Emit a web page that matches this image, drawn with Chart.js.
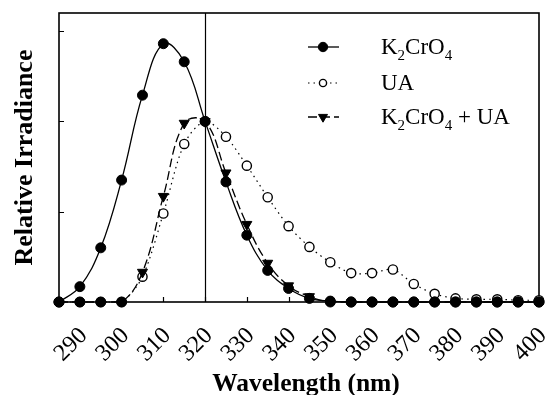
<!DOCTYPE html>
<html>
<head>
<meta charset="utf-8">
<title>Relative Irradiance</title>
<script src="https://cdn.jsdelivr.net/npm/chart.js@4.4.0/dist/chart.umd.min.js"></script>
<style>
  html, body { margin: 0; padding: 0; background: #fff; }
  #wrap { width: 545px; height: 395px; }
</style>
</head>
<body>
<div id="wrap"><canvas id="irradianceChart"></canvas></div>
<script>
// Wavelength grid (nm) and relative irradiance for each filter
const wavelengths = [285, 290, 295, 300, 305, 310, 315, 320, 325, 330, 335, 340,
                     345, 350, 355, 360, 365, 370, 375, 380, 385, 390, 395, 400];
const chromate = [0, 0.17, 0.6, 1.35, 2.29, 2.86, 2.66, 2.0, 1.33, 0.74, 0.35, 0.15,
                  0.04, 0.01, 0, 0, 0, 0, 0, 0, 0, 0, 0, 0];
const uricAcid = [0, 0, 0, 0, 0.28, 0.98, 1.75, 2.0, 1.83, 1.51, 1.16, 0.84,
                  0.61, 0.44, 0.32, 0.32, 0.36, 0.2, 0.09, 0.04, 0.03, 0.03, 0.02, 0.02];
const mixed = [0, 0, 0, 0, 0.33, 1.17, 1.98, 2.0, 1.43, 0.86, 0.43, 0.18,
               0.06, 0, 0, 0, 0, 0, 0, 0, 0, 0, 0, 0];

const xTickValues = [290, 300, 310, 320, 330, 340, 350, 360, 370, 380, 390, 400];
const yTickValues = [1, 2, 3];
const markerLine = 320;
const xTitle = 'Wavelength (nm)';

const SERIF = '"Liberation Serif", "Times New Roman", serif';

const toPoints = values => values.map((v, i) => ({ x: wavelengths[i], y: v }));

// Frame, inward tick marks and the reference line at 320 nm
const framePlugin = {
    id: 'frame',
    beforeDatasetsDraw(chart) {
        const { ctx, chartArea: a, scales: { x, y } } = chart;
        ctx.save();
        ctx.strokeStyle = '#000';

        ctx.lineWidth = 1.2;
        ctx.beginPath();
        xTickValues.forEach(v => {
            const px = Math.round(x.getPixelForValue(v)) + 0.5;
            ctx.moveTo(px, a.bottom);
            ctx.lineTo(px, a.bottom - 5);
        });
        yTickValues.forEach(v => {
            const py = Math.round(y.getPixelForValue(v)) + 0.5;
            ctx.moveTo(a.left, py);
            ctx.lineTo(a.left + 5, py);
        });
        ctx.stroke();

        const mx = Math.round(x.getPixelForValue(markerLine)) + 0.5;
        ctx.beginPath();
        ctx.moveTo(mx, a.top);
        ctx.lineTo(mx, a.bottom);
        ctx.stroke();

        ctx.lineWidth = 1.6;
        ctx.strokeRect(a.left, a.top, a.right - a.left, a.bottom - a.top);
        ctx.restore();
    },
    afterDraw(chart) {
        // x title sits a little right of the plot centre
        const { ctx, chartArea: a } = chart;
        ctx.save();
        ctx.fillStyle = '#000';
        ctx.font = 'bold 25.5px ' + SERIF;
        ctx.textAlign = 'center';
        ctx.textBaseline = 'alphabetic';
        ctx.fillText(xTitle, (a.left + a.right) / 2 + 7, 391);
        ctx.restore();
    }
};

// Draws "K2CrO4" style labels with the digits set as subscripts
function drawFormula(ctx, text, x, y) {
    let cx = x;
    for (const ch of text) {
        const sub = /[0-9]/.test(ch);
        ctx.font = (sub ? '15px ' : '23px ') + SERIF;
        ctx.fillText(ch, cx, sub ? y + 6 : y);
        cx += ctx.measureText(ch).width;
    }
}

// Legend in the upper right of the plot
const legendPlugin = {
    id: 'formulaLegend',
    afterDraw(chart) {
        const { ctx } = chart;
        const order = [0, 2, 1];
        const rowY = [47, 83, 117];
        const sampleSize = [4.7, 3.6, 5.2];
        ctx.save();
        order.forEach((di, row) => {
            const ds = chart.data.datasets[di];
            const y = rowY[row];
            ctx.strokeStyle = '#000';
            ctx.lineWidth = ds.borderWidth;
            ctx.setLineDash(ds.borderDash || []);
            ctx.beginPath();
            ctx.moveTo(308, y);
            ctx.lineTo(339, y);
            ctx.stroke();
            ctx.setLineDash([]);
            ctx.fillStyle = ds.pointBackgroundColor;
            ctx.lineWidth = ds.pointBorderWidth;
            Chart.helpers.drawPoint(ctx, {
                pointStyle: ds.legendStyle,
                rotation: ds.pointRotation || 0,
                radius: sampleSize[row],
                borderWidth: ds.pointBorderWidth
            }, 323, y);
            ctx.fillStyle = '#000';
            ctx.textBaseline = 'alphabetic';
            ctx.textAlign = 'left';
            drawFormula(ctx, ds.label, 381, y + 7);
        });
        ctx.restore();
    }
};

const canvas = document.getElementById('irradianceChart');
canvas.width = 545;
canvas.height = 395;

// Chart.js paints the last dataset first, so K2CrO4 ends up on top
new Chart(canvas, {
    type: 'line',
    data: {
        datasets: [
            {
                label: 'K2CrO4',
                data: toPoints(chromate),
                borderColor: '#000',
                borderWidth: 1.3,
                tension: 0.4,
                pointStyle: 'circle',
                legendStyle: 'circle',
                pointRadius: 5,
                pointBackgroundColor: '#000',
                pointBorderColor: '#000',
                pointBorderWidth: 1,
                clip: 8
            },
            {
                label: 'K2CrO4 + UA',
                data: toPoints(mixed),
                borderColor: '#000',
                borderWidth: 1.3,
                borderDash: [9, 4],
                tension: 0.4,
                // zero readings share the filled round marker
                pointStyle: ctx => (mixed[ctx.dataIndex] === 0 ? 'circle' : 'triangle'),
                legendStyle: 'triangle',
                pointRotation: 180,
                pointRadius: ctx => (mixed[ctx.dataIndex] === 0 ? 5 : 5.8),
                pointBackgroundColor: '#000',
                pointBorderColor: '#000',
                pointBorderWidth: 1,
                clip: 8
            },
            {
                label: 'UA',
                data: toPoints(uricAcid),
                borderColor: '#000',
                borderWidth: 1.2,
                borderDash: [1.5, 4],
                tension: 0.3,
                pointStyle: 'circle',
                legendStyle: 'circle',
                pointRadius: 4.6,
                pointBackgroundColor: '#fff',
                pointBorderColor: '#000',
                pointBorderWidth: 1.4,
                clip: 8
            }
        ]
    },
    options: {
        responsive: false,
        animation: false,
        devicePixelRatio: 1,
        layout: { padding: { left: 0, top: 13, right: 6, bottom: 0 } },
        plugins: {
            legend: { display: false },
            tooltip: { enabled: false }
        },
        scales: {
            x: {
                type: 'linear',
                min: 285,
                max: 400,
                afterBuildTicks: s => { s.ticks = xTickValues.map(v => ({ value: v })); },
                afterFit: s => { s.height = 93; s.paddingLeft = 0; s.paddingRight = 0; },
                grid: { display: false },
                border: { display: false },
                ticks: {
                    autoSkip: false,
                    minRotation: 45,
                    maxRotation: 45,
                    padding: 12,
                    labelOffset: 4,
                    color: '#000',
                    font: { family: SERIF, size: 24 }
                },
                title: { display: false }
            },
            y: {
                min: 0,
                max: 3.2,
                afterFit: s => { s.width = 59; },
                grid: { display: false },
                border: { display: false },
                ticks: { display: false },
                title: {
                    display: true,
                    text: 'Relative Irradiance',
                    color: '#000',
                    font: { family: SERIF, size: 26, weight: 'bold' },
                    padding: { top: 10, bottom: 0 }
                }
            }
        }
    },
    plugins: [framePlugin, legendPlugin]
});
</script>
</body>
</html>
